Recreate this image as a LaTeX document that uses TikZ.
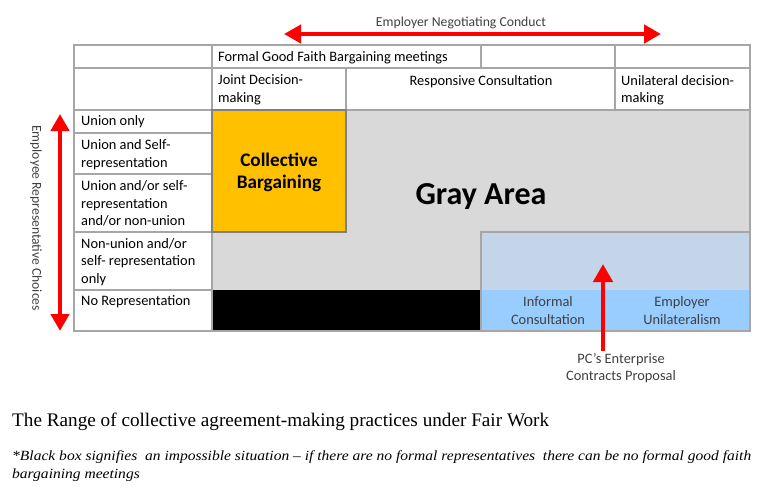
\documentclass[tikz,border=0pt]{standalone}
\usepackage{fontspec}
\setmainfont{Carlito}
\newfontfamily\capfont{Liberation Serif}
\newfontfamily\notefont[FakeStretch=1.11]{Liberation Serif}
\usetikzlibrary{arrows.meta}
\definecolor{gridgray}{HTML}{A6A6A6}
\definecolor{cbyellow}{HTML}{FFC000}
\definecolor{areagray}{HTML}{D9D9D9}
\definecolor{paleblue}{HTML}{C5D5E9}
\definecolor{skyblue}{HTML}{99CCFF}
\definecolor{arrowred}{HTML}{FF0000}
\definecolor{labelgray}{HTML}{404040}
\begin{document}
\begin{tikzpicture}[x=1pt,y=-1pt,
  gridline/.style={draw=gridgray,line width=1.2pt},
  celltext/.style={font=\fontsize{14.4}{17.5}\selectfont,align=left,anchor=west,inner sep=0pt,text=black},
  ctrtext/.style={font=\fontsize{14.4}{17.5}\selectfont,align=center,inner sep=0pt,text=black},
  bigtext/.style={font=\bfseries\fontsize{19.2}{22}\selectfont,align=center,inner sep=0pt},
  redarrow/.style={draw=arrowred,line width=4.5pt,{Triangle[length=17pt,width=18pt]}-{Triangle[length=17pt,width=18pt]}},
  redarrowone/.style={draw=arrowred,line width=4.5pt,-{Triangle[length=18pt,width=19pt]}},
]
\useasboundingbox (0,0) rectangle (776,488);
% fills
\fill[areagray] (212,110) rectangle (750,290);
\fill[cbyellow] (212,110) rectangle (346,232);
\fill[paleblue] (481,232) rectangle (750,290);
\fill[skyblue] (481,290) rectangle (750,331);
\fill[black] (212,290) rectangle (481,331);
% grid lines
\draw[gridline] (74,45) rectangle (750,331);
\draw[gridline] (74,68) -- (750,68);
\draw[gridline] (74,110) -- (750,110);
\draw[gridline] (212,45) -- (212,331);
\draw[gridline] (481,45) -- (481,68);
\draw[gridline] (615,45) -- (615,110);
\draw[gridline] (346,68) -- (346,110);
\draw[gridline] (74,133) -- (212,133);
\draw[gridline] (74,174) -- (212,174);
\draw[gridline] (74,232) -- (212,232);
\draw[gridline] (74,290) -- (212,290);
\draw[draw=gray,line width=1.2pt] (212,110) rectangle (346,232);
\draw[gridline] (481,331) -- (481,232) -- (750,232);
% header texts
\node[celltext] (formal) at (218,58) {Formal Good Faith Bargaining meetings};
\node[celltext] (joint) at (218,90) {Joint Decision-\\making};
\node[ctrtext] (resp) at (481,82) {Responsive Consultation};
\node[celltext] (unil) at (621,90) {Unilateral decision-\\making};
% row labels
\node[celltext] (r1) at (81,122) {Union only};
\node[celltext] (r2) at (81,154.5) {Union and Self-\\representation};
\node[celltext] (r3) at (81,203.5) {Union and/or self-\\representation\\and/or non-union};
\node[celltext] (r4) at (81,262) {Non-union and/or\\self- representation\\only};
\node[celltext] (r5) at (81,302) {No Representation};
% area labels
\node[bigtext] (cb) at (279,172) {Collective\\Bargaining};
\node[font=\bfseries\fontsize{32}{38}\selectfont,inner sep=0pt] (gray) at (481,197) {Gray Area};
\node[ctrtext,text=labelgray] (inf) at (548,310.5) {Informal\\Consultation};
\node[ctrtext,text=labelgray] (emp) at (682,310.5) {Employer\\Unilateralism};
% top arrow
\coordinate (tl) at (284,34);
\coordinate (tr) at (661,34);
\draw[redarrow] (tl) -- (tr);
\node[ctrtext,text=labelgray,font=\fontsize{13.7}{17}\selectfont] (enc) at (461,23) {Employer Negotiating Conduct};
% left arrow
\coordinate (lt) at (60,114);
\coordinate (lb) at (60,331);
\draw[redarrow] (lt) -- (lb);
\node[ctrtext,text=labelgray,font=\fontsize{13.6}{17}\selectfont,rotate=-90] (erc) at (36,218) {Employee Representative Choices};
% PC arrow
\coordinate (pcb) at (603,351);
\coordinate (pct) at (603,264);
\draw[redarrowone] (pcb) -- (pct);
\node[ctrtext,text=labelgray] (pc) at (621,368) {PC’s Enterprise\\Contracts Proposal};
% caption
\node[font=\capfont\fontsize{19.2}{22}\selectfont,anchor=base west,inner sep=0pt] (cap) at (12,426) {The Range of collective agreement-making practices under Fair Work};
\node[font=\notefont\itshape\fontsize{14}{18}\selectfont,anchor=base west,inner sep=0pt] (note1) at (12,460) {*Black box signifies\ \ an impossible situation – if there are no formal representatives\ \ there can be no formal good faith};
\node[font=\notefont\itshape\fontsize{14}{18}\selectfont,anchor=base west,inner sep=0pt] (note2) at (12,478) {bargaining meetings};
\end{tikzpicture}
\end{document}
